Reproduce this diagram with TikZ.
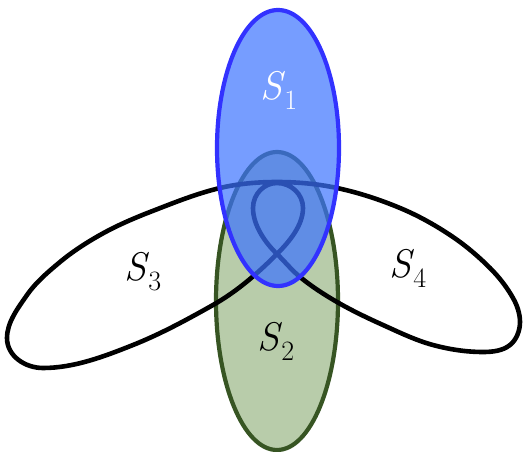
\documentclass[tikz,border=0pt]{standalone}
\definecolor{setblue}{RGB}{60,115,255}
\definecolor{setblueline}{RGB}{50,50,255}
\definecolor{setgreen}{RGB}{184,204,170}
\definecolor{setgreenline}{RGB}{55,85,35}
\begin{document}
\begin{tikzpicture}[
  x=1pt, y=-1pt,
  blueset/.style={fill=setblue, fill opacity=0.7, draw=setblueline, draw opacity=1, line width=4.2pt},
  greenset/.style={fill=setgreen, draw=setgreenline, line width=4.2pt},
  loopset/.style={draw=black, line width=4.6pt, line join=round},
  setname/.style={font=\fontsize{40}{44}\selectfont, inner sep=0pt}
]
\useasboundingbox (0,0) rectangle (525,452);

% lower set
\draw[greenset] (277,301) ellipse [x radius=61pt, y radius=149pt];

% the curve with the loop
\coordinate (cross) at (277,254);
\draw[loopset] (cross)
  .. controls +(-19.5,19.5) and +(23.9,-13.5) .. (213,305)
  .. controls +(-25.9,14.6) and +(27.7,-11) .. (133,345)
  .. controls +(-28.8,11.5) and +(31,0) .. (43,368)
  .. controls +(-18,0) and +(0,18) .. (7,338)
  .. controls +(0,-15.8) and +(-9,13) .. (27,295)
  .. controls +(8.9,-12.8) and +(-12,10) .. (60,262)
  .. controls +(12.4,-10.3) and +(-14,7.9) .. (100,235)
  .. controls +(15.9,-9) and +(-17,6.6) .. (150,212)
  .. controls +(23,-8.9) and +(-24,5.7) .. (220,188)
  .. controls +(18.5,-4.4) and +(-19.1,0) .. (277,182)
  .. controls +(20.1,0) and +(-19.7,-4.2) .. (337,188)
  .. controls +(21.6,4.6) and +(-20.2,-8.4) .. (400,208)
  .. controls +(17.4,7.2) and +(-15.7,-10.4) .. (450,235)
  .. controls +(14.4,9.5) and +(-12.3,-12.3) .. (490,268)
  .. controls +(8.9,8.9) and +(-6.2,-11) .. (513,298)
  .. controls +(4.1,7.2) and +(0,-8.3) .. (520,322)
  .. controls +(0,8.4) and +(6.6,-5.3) .. (510,345)
  .. controls +(-7.3,5.9) and +(9.3,0) .. (483,352)
  .. controls +(-16.8,0) and +(16.2,4.4) .. (433,345)
  .. controls +(-17.4,-4.7) and +(16.4,7.4) .. (383,325)
  .. controls +(-15.6,-7) and +(14.9,8.6) .. (337,302)
  .. controls +(-13,-7.5) and +(11.5,9.4) .. (300,277)
  .. controls +(-8.5,-7) and +(8,7.7) .. (cross)
  .. controls +(-12.2,-11.7) and +(0,17) .. (253,208)
  .. controls +(0,-14) and +(-13,0) .. (277,183)
  .. controls +(14,0) and +(0,-14) .. (303,208)
  .. controls +(0,17.3) and +(12.3,-12.3) .. (cross) -- cycle;

% upper set
\draw[blueset] (278,148) ellipse [x radius=61pt, y radius=138pt];

\node[setname, text=white] (s1) at (279,90) {\textit{S}\kern-1pt\textsubscript{1}};
\node[setname] (s2) at (276,341) {\textit{S}\kern-1pt\textsubscript{2}};
\node[setname] (s3) at (143,272) {\textit{S}\kern-1pt\textsubscript{3}};
\node[setname] (s4) at (408,268) {\textit{S}\kern-1pt\textsubscript{4}};
\end{tikzpicture}
\end{document}
